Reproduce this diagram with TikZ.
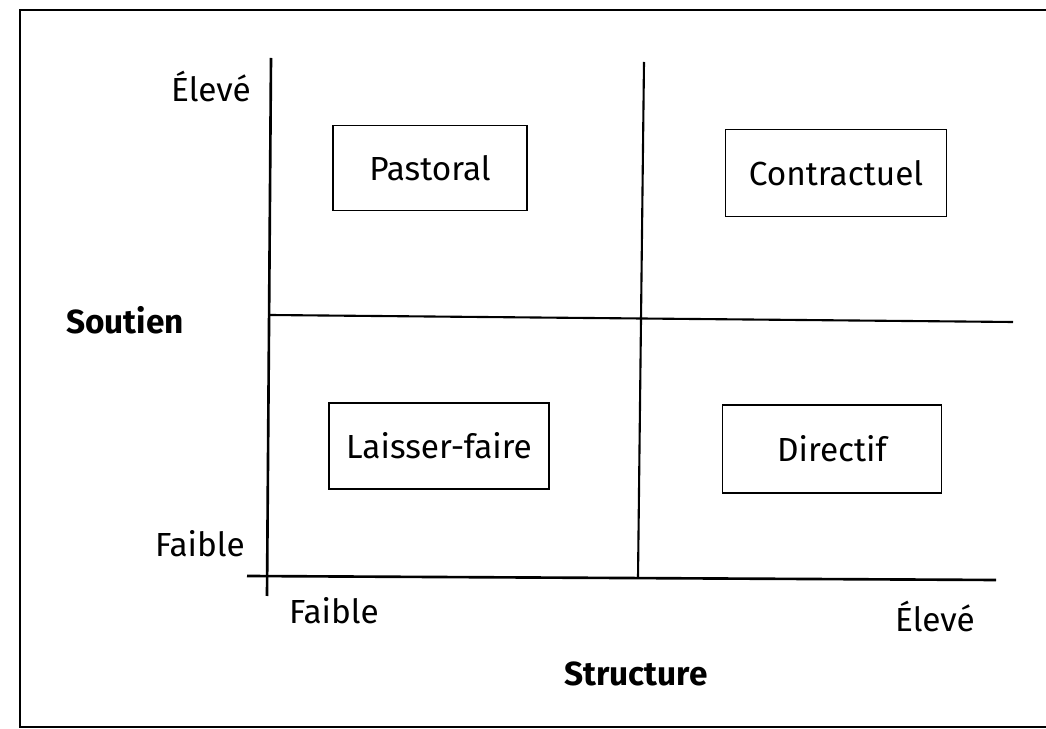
\documentclass[tikz,border=0pt]{standalone}
\usepackage{fontspec}
\setmainfont{Fira Sans}
\usetikzlibrary{positioning}

\begin{document}
\begin{tikzpicture}[%
    x=0.02cm,
    y=-0.02cm,
    font=\fontsize{19}{22}\selectfont,
    stylebox/.style={draw, line width=1.1pt, minimum width=4.4cm, minimum height=1.73cm},
    axis/.style={line width=1.5pt},
    divider/.style={line width=1.2pt},
    title/.style={font=\fontsize{19}{22}\selectfont\bfseries}
  ]
    \useasboundingbox (0,0) rectangle (1046,729);
    \draw[line width=1.1pt] (1060,10) -- (20,10) -- (20,727) -- (1060,727);

    % axes
    \coordinate (Xstart) at (247,576);
    \coordinate (Xend) at (996,580);
    \coordinate (Ytop) at (271,58);
    \coordinate (Ybot) at (267,596);
    \draw[axis] (Xstart) -- (Xend);
    \draw[axis] (Ytop) -- (Ybot);

    % quadrant lines
    \coordinate (Vtop) at (644,62);
    \coordinate (Vbot) at (638,578);
    \coordinate (Hleft) at (270,315);
    \coordinate (Hright) at (1013,322);
    \draw[divider] (Vtop) -- (Vbot);
    \draw[divider] (Hleft) -- (Hright);

    % styles of leadership
    \node[stylebox, minimum width=3.88cm, minimum height=1.70cm] (pastoral) at (430,168) {Pastoral};
    \node[stylebox, minimum width=4.42cm, minimum height=1.74cm] (contract) at (836,173) {Contractuel};
    \node[stylebox, minimum width=4.40cm, minimum height=1.72cm] (laisser) at (439,446) {Laisser-faire};
    \node[stylebox, minimum width=4.38cm, minimum height=1.76cm] (directif) at (832,449) {Directif};

    % axis labels
    \node (yhigh) at (211,86) {Élevé};
    \node (ylow) at (200,544) {Faible};
    \node[title] (soutien) at (125,320) {Soutien};
    \node (xlow) at (334,611) {Faible};
    \node (xhigh) at (935,616) {Élevé};
    \node[title] (structure) at (636,674) {Structure};
\end{tikzpicture}
\end{document}
